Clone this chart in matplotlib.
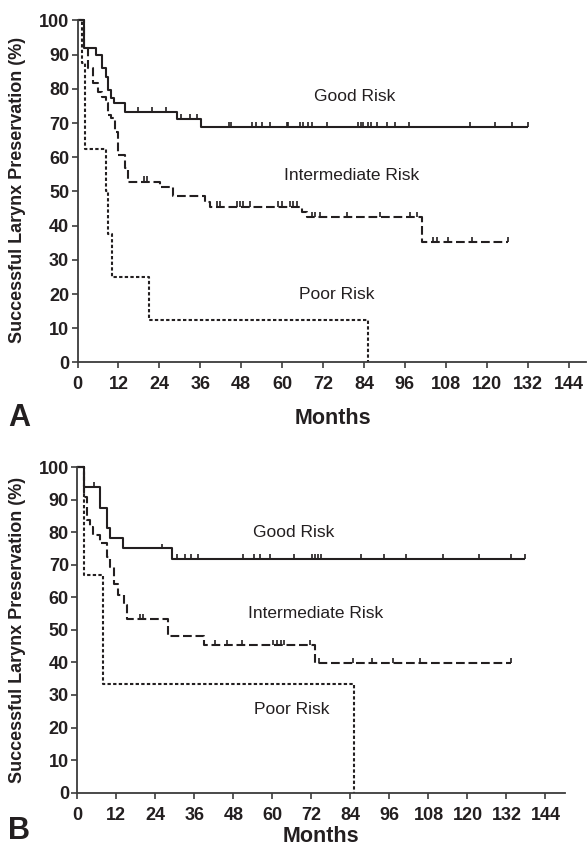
import numpy as np
import matplotlib
matplotlib.use("Agg")
import matplotlib.pyplot as plt

plt.rcParams['font.family'] = ['Liberation Sans', 'DejaVu Sans']

INK = '#231f20'

# ---------------- Panel A data ----------------
A_good_t = [0, 2.0, 5.3, 7.1, 8.3, 9.0, 9.8, 10.8, 13.9, 29.1, 36.2, 132.2]
A_good_s = [100, 92.0, 89.9, 86.0, 83.6, 79.7, 77.2, 75.8, 73.3, 71.2, 68.8, 68.8]
A_good_c = [17.8, 21.9, 25.9, 30.3, 33.0, 35.0, 44.4, 45.0, 51.3, 52.3, 54.0, 56.4,
            61.3, 61.8, 65.2, 66.2, 67.7, 68.7, 73.3, 82.3, 83.0, 83.8, 85.3, 86.0,
            87.7, 90.7, 93.1, 97.3, 115.1, 122.4, 127.3, 132.2]

A_int_t = [0, 2.0, 3.2, 4.6, 6.1, 7.1, 8.3, 9.0, 9.8, 11.0, 12.0, 13.9, 14.9, 24.2,
           28.1, 37.4, 38.9, 65.7, 67.2, 100.9, 126.3]
A_int_s = [100, 92.0, 86.0, 81.6, 79.2, 77.7, 76.0, 72.4, 71.4, 67.5, 60.7, 56.8, 52.9,
           51.4, 48.7, 47.0, 45.6, 44.1, 42.6, 35.3, 35.3]
A_int_c = [19.5, 20.5, 40.8, 41.8, 46.7, 47.6, 48.6, 50.6, 58.9, 59.9, 62.3, 63.3, 64.3,
           68.7, 69.7, 71.0, 78.9, 88.7, 97.5, 99.5, 104.3, 105.3, 108.7, 115.6, 126.3]

A_poor_t = [0, 1.2, 2.2, 8.3, 9.0, 10.0, 21.1, 85.2]
A_poor_s = [100, 87.5, 62.5, 50.0, 37.5, 25.0, 12.5, 0]

# ---------------- Panel B data ----------------
B_good_t = [0, 2.2, 7.0, 9.2, 10.1, 14.2, 29.2, 137.7]
B_good_s = [100, 93.8, 87.5, 81.3, 78.1, 75.0, 71.9, 71.9]
B_good_c = [5.2, 26.2, 30.6, 33.1, 35.1, 37.2, 51.1, 54.5, 56.2, 59.3, 66.5, 72.2,
            73.1, 74.0, 74.9, 87.4, 94.3, 101.2, 112.4, 123.5, 133.4, 137.7]

B_int_t = [0, 2.1, 3.1, 3.9, 4.9, 7.1, 9.1, 10.1, 11.4, 12.4, 14.3, 15.2, 28.0, 39.0,
           73.1, 133.4]
B_int_s = [100, 90.9, 83.8, 81.7, 79.2, 76.8, 72.5, 69.4, 64.0, 60.7, 57.7, 53.3, 48.1,
           45.3, 39.8, 39.8]
B_int_c = [19.2, 20.2, 42.4, 46.0, 50.6, 60.3, 61.5, 62.5, 63.5, 71.6, 74.2, 84.9,
           90.6, 97.2, 105.4, 133.4]

B_poor_t = [0, 2.1, 8.0, 85.1]
B_poor_s = [100, 66.7, 33.3, 0]

x_ticks = list(range(0, 145, 12))
y_ticks = list(range(0, 101, 10))

labels = ["Good Risk", "Intermediate Risk", "Poor Risk"]
A_label_pos = [(81.3, 77.9), (80.4, 54.6), (76.1, 20.0)]
B_label_pos = [(66.5, 80.0), (73.4, 54.9), (66.0, 25.4)]

W, H = 588, 847
fig = plt.figure(figsize=(W / 100, H / 100), dpi=100)


def rect(x0, y_top, x1, y_bot):
    return [x0 / W, 1 - y_bot / H, (x1 - x0) / W, (y_bot - y_top) / H]


def fpos(x, y):
    return x / W, 1 - y / H


SOLID = '-'
DASH = (0, (4.2, 1.8))
DOT = (0, (1.6, 1.1))


def km(ax, t, s, cens, ls, tick_h=1.5):
    ax.step(t, s, where='post', color=INK, lw=1.5, linestyle=ls, clip_on=False,
            solid_capstyle='butt', dash_capstyle='butt')
    if cens:
        t_arr = np.asarray(t)
        s_arr = np.asarray(s)
        idx = np.searchsorted(t_arr, cens, side='right') - 1
        lev = s_arr[idx]
        ax.vlines(cens, lev, lev + tick_h, color=INK, lw=1.2, clip_on=False)


def style(ax, xmax):
    ax.set_xlim(0, xmax)
    ax.set_ylim(0, 100)
    for sp in ['top', 'right']:
        ax.spines[sp].set_visible(False)
    for sp in ['left', 'bottom']:
        ax.spines[sp].set_color('#3c3c3c')
        ax.spines[sp].set_linewidth(1.3)
    ax.set_xticks(x_ticks)
    ax.set_yticks(y_ticks)
    ax.tick_params(direction='out', length=4, width=1.2, color='#3c3c3c',
                   labelsize=13, labelcolor=INK)
    ax.tick_params(axis='x', pad=6)
    ax.tick_params(axis='y', pad=2)
    for lab in ax.get_xticklabels() + ax.get_yticklabels():
        lab.set_fontweight('bold')


axA = fig.add_axes(rect(77.5, 20.5, 585.6, 362.5))
style(axA, 149)
km(axA, A_good_t, A_good_s, A_good_c, SOLID)
km(axA, A_int_t, A_int_s, A_int_c, DASH)
km(axA, A_poor_t, A_poor_s, [], DOT)
for lab, (x, y) in zip(labels, A_label_pos):
    axA.text(x, y, lab, ha='center', va='center', fontsize=12.5, color=INK)

axB = fig.add_axes(rect(77.3, 467, 565, 792.7))
style(axB, 150)
km(axB, B_good_t, B_good_s, B_good_c, SOLID)
km(axB, B_int_t, B_int_s, B_int_c, DASH)
km(axB, B_poor_t, B_poor_s, [], DOT)
for lab, (x, y) in zip(labels, B_label_pos):
    axB.text(x, y, lab, ha='center', va='center', fontsize=12.5, color=INK)

ylab = "Successful Larynx Preservation (%)"
fig.text(*fpos(18, 190), ylab, rotation=90, ha='center', va='center',
         fontsize=13, fontweight='bold', color=INK)
fig.text(*fpos(18, 630), ylab, rotation=90, ha='center', va='center',
         fontsize=13, fontweight='bold', color=INK)

fig.text(*fpos(333, 418), "Months", ha='center', va='center', fontsize=15.5,
         fontweight='bold', color=INK)
fig.text(*fpos(321, 836), "Months", ha='center', va='center', fontsize=15.5,
         fontweight='bold', color=INK)

fig.text(*fpos(8, 426), "A", ha='left', va='baseline', fontsize=22,
         fontweight='bold', color=INK)
fig.text(*fpos(8, 839), "B", ha='left', va='baseline', fontsize=22,
         fontweight='bold', color=INK)

fig.savefig("out.png", dpi=100)
